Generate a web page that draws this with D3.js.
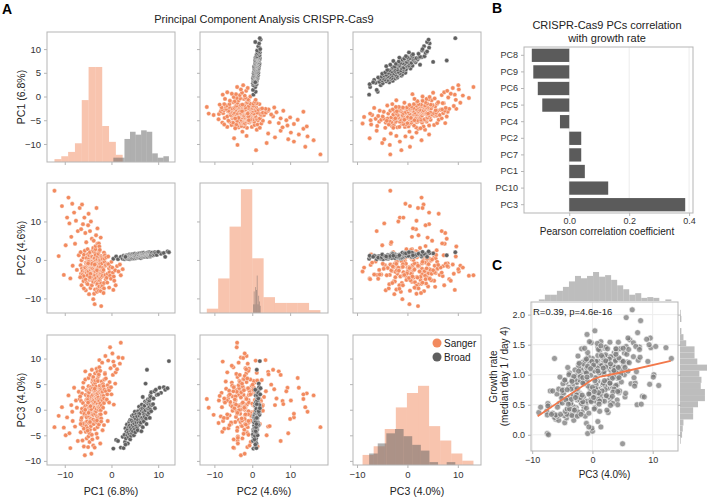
<!DOCTYPE html>
<html>
<head>
<meta charset="utf-8">
<script src="https://cdn.jsdelivr.net/npm/d3@7"></script>
<style>
body { margin: 0; background: #fff; }
svg { font-family: "Liberation Sans", Arial, sans-serif; }
</style>
</head>
<body>
<div id="chart"></div>
<script>

// ---- data ----
var pcLabels = ["PC1 (6.8%)", "PC2 (4.6%)", "PC3 (4.0%)"];
var pcDomains = [[-13.8, 13.6], [-13.8, 20.0], [-10.8, 14.6]];
var pcYTicks = [[-10, -5, 0, 5, 10], [-10, 0, 10], [-10, -5, 0, 5, 10]];
var pcXTicks = [-10, 0, 10];

var groups = ["Sanger", "Broad"];

// each sample: [PC1, PC2, PC3]
var sangerSamples = [
  [-12.2,18.0,-3.4],[-11.3,1.0,-1.2],
  [-10.6,14.0,0.5],[-10.2,-3.9,-3.5],[-9.8,3.8,-5.0],
  [-9.5,11.0,-1.5],[-9.2,16.2,2.8],[-9.0,9.5,-4.6],[-8.8,-4.8,-7.5],[-8.6,6.0,0.9],[-8.4,14.6,-0.4],[-8.3,-1.5,-2.2],
  [-8.0,12.3,4.3],[-7.8,4.2,-3.3],[-7.6,10.2,1.8],[-7.4,-2.6,0.4],[-7.2,7.5,-6.1],[-7.0,1.2,3.5],[-6.8,13.5,2.1],
  [-6.6,-1.4,-4.4],[-6.5,8.0,1.7],[-6.5,-3.6,-2.0],[-6.4,-0.1,-0.5],[-6.3,-2.2,0.2],[-6.3,14.4,3.2],[-6.2,-2.9,-3.1],
  [-6.2,-3.9,-6.0],[-6.1,-4.6,1.3],[-6.1,9.3,4.3],[-6.0,-5.5,-2.7],[-6.0,0.6,5.3],[-5.9,-4.2,-0.3],[-5.9,1.4,-7.2],
  [-5.8,-1.9,-1.1],[-5.8,11.0,-0.8],[-5.7,2.4,0.6],[-5.7,-3.0,-8.9],[-5.6,-2.4,5.9],[-5.6,7.0,7.5],[-5.5,-5.1,0.8],
  [-5.5,-0.7,2.9],[-5.5,-7.9,-4.3],[-5.4,-3.1,-2.4],[-5.4,4.6,-3.2],[-5.4,-1.0,1.9],[-5.3,-6.0,-1.1],[-5.3,-3.3,3.8],
  [-5.3,0.5,-1.5],[-5.3,-2.6,-5.6],[-6.7,-4.5,2.6],[-6.6,2.0,-2.8],[-6.4,-6.6,-1.6],[-5.9,-7.4,-3.7],[-5.6,-2.0,0.0],
  [-5.2,-0.6,-2.3],[-5.2,-1.7,2.1],[-5.1,-6.3,-3.6],[-5.1,2.8,0.9],[-5.0,1.5,2.0],[-5.0,-2.6,3.0],[-5.0,9.0,3.6],
  [-5.0,-1.3,-7.3],[-4.9,-3.8,-5.2],[-4.9,-0.2,4.6],[-4.9,12.0,6.2],[-4.9,-3.0,2.7],[-4.8,0.3,3.4],[-4.8,-4.3,-1.4],
  [-4.8,-8.9,-2.6],[-4.8,-1.8,0.4],[-4.7,-0.4,-6.3],[-4.7,1.1,-0.7],[-4.7,-1.3,-4.6],[-4.7,-2.2,1.2],[-4.6,-2.1,-3.9],
  [-4.6,2.0,0.5],[-4.6,7.5,6.8],[-4.6,-5.2,-0.2],[-4.5,-2.0,-1.8],[-4.5,-7.3,1.6],[-4.5,-0.9,3.9],[-4.4,-2.4,4.4],
  [-4.4,-0.8,4.0],[-4.4,-2.7,-3.2],[-4.4,10.0,-1.8],[-4.3,0.9,0.1],[-4.3,-1.6,2.3],[-4.3,-5.2,2.6],[-4.3,-2.0,-8.6],
  [-4.2,-6.6,-0.9],[-4.2,-3.4,0.9],[-4.2,-0.4,-2.1],[-4.2,5.5,7.8],[-4.1,-3.2,-0.8],[-4.1,-4.9,-5.8],[-4.1,0.8,1.6],
  [-4.1,-1.5,5.4],[-4.0,-1.1,-2.6],[-4.0,-5.4,5.3],[-4.0,-1.4,1.0],[-4.0,-3.5,4.2],[-4.0,2.5,5.8],[-3.9,-0.7,-7.0],
  [-3.9,-2.8,-1.9],[-3.9,-5.7,0.9],[-3.9,3.1,2.5],[-3.9,-10.2,-1.0],[-3.9,-3.9,6.4],[-3.8,-2.7,1.2],[-3.8,-1.9,-2.8],
  [-3.8,2.1,2.0],[-3.8,-0.6,3.8],[-3.8,5.0,4.9],[-5.1,-4.0,-4.1],[-4.9,-0.5,-0.6],[-4.5,-3.6,0.7],[-4.2,-1.0,-4.9],
  [-4.0,-2.3,2.9],[-5.0,-0.9,1.4],[-4.6,-4.5,-2.4],
  [-3.7,-4.5,3.9],[-3.7,-2.5,1.4],[-3.7,-8.8,1.8],[-3.7,0.4,5.6],[-3.6,0.6,-0.4],[-3.6,0.4,-3.8],[-3.6,-11.5,0.4],
  [-3.6,-5.0,-7.4],[-3.6,-3.0,3.3],[-3.5,1.8,5.2],[-3.5,-7.7,-2.2],[-3.5,-3.7,2.9],[-3.5,-4.0,-0.8],[-3.5,-1.6,7.1],
  [-3.4,-5.8,1.5],[-3.4,2.8,-0.2],[-3.4,3.6,3.6],[-3.4,1.3,5.7],[-3.4,-3.0,2.4],[-3.3,-0.2,3.1],[-3.3,-4.8,4.5],
  [-3.3,-1.0,-0.3],[-3.3,6.4,2.2],[-3.2,-1.5,2.1],[-3.2,-2.3,-4.7],[-3.2,-2.4,0.2],[-3.2,13.5,3.0],[-3.2,-0.9,8.0],
  [-3.1,-8.3,-1.3],[-3.1,-5.6,-2.5],[-3.1,-6.4,2.2],[-3.0,-6.2,2.8],[-3.0,0.2,0.9],[-3.0,-1.2,-3.4],[-3.0,-3.8,-5.5],
  [-3.0,-2.2,6.0],[-3.0,8.2,1.1],[-3.0,4.2,7.4],[-2.9,-3.4,5.6],[-2.9,0.9,3.2],[-2.9,-7.5,-1.6],[-2.9,-2.0,0.6],
  [-2.8,-5.3,0.6],[-2.8,1.6,2.4],[-2.8,-2.0,6.6],[-2.8,-4.4,1.9],[-2.7,-1.7,-2.9],[-2.7,-3.1,0.0],[-2.7,-8.0,0.5],
  [-2.7,4.3,6.9],[-2.6,2.3,1.7],[-2.6,-6.9,4.1],[-2.6,-0.3,-1.2],[-2.6,-0.7,3.5],[-2.6,-5.0,8.3],[-2.6,3.5,9.7],
  [-2.5,0.4,4.3],[-2.5,2.6,0.7],[-2.5,-5.3,4.7],[-2.5,-1.1,-0.9],[-2.4,-4.7,0.3],[-2.4,-1.0,7.6],[-2.4,0.0,1.2],
  [-2.4,-3.8,-6.6],[-3.6,-1.2,4.1],[-3.1,-2.7,-2.1],
  [-2.3,-8.1,3.3],[-2.3,-3.5,-0.1],[-2.3,-1.8,-0.9],[-2.3,5.8,4.0],[-2.2,-2.8,-1.7],[-2.2,-6.1,3.7],[-2.2,1.0,-2.3],
  [-2.2,-12.0,2.1],[-2.1,-4.4,2.6],[-2.1,-7.0,5.5],[-2.1,0.6,0.8],[-2.0,-0.9,2.9],[-2.0,0.1,4.9],[-2.0,-2.9,3.4],
  [-2.0,-3.6,9.2],[-1.9,-4.1,3.5],[-1.9,-6.7,1.8],[-1.9,0.3,-4.0],[-1.8,-3.0,5.0],[-1.8,-2.1,0.4],[-1.7,-2.6,4.6],
  [-1.7,-8.6,2.7],[-1.6,-7.4,2.2],[-1.6,1.9,1.3],[-1.6,-6.0,-3.0],[-1.5,-0.5,5.9],[-1.5,0.3,3.9],[-1.4,1.2,7.2],
  [-1.4,-4.2,7.0],[-1.3,-3.9,-0.6],[-1.3,-1.5,10.5],[-1.2,-1.3,6.1],[-1.2,-5.0,3.6],[-1.1,0.7,1.9],[-1.0,-4.6,2.0],
  [-0.9,-5.9,3.0],[-0.8,-3.6,4.8],[-0.8,-1.0,-2.2],[-0.7,0.9,9.6],[-0.6,-1.1,4.2],[-0.5,-2.2,3.8],[-0.5,-7.2,1.4],
  [-0.4,-3.2,5.4],[-0.3,-4.1,12.2],[-0.2,-1.8,8.1],[-0.1,-4.9,4.4],[0.0,-0.5,3.0],[0.2,-2.0,11.0],[0.3,-3.3,6.8],
  [0.4,-7.8,9.4],[0.5,-4.3,1.0],
  [0.6,-5.4,8.6],[0.8,-2.7,5.1],[0.9,-6.6,7.3],[1.2,-1.6,7.9],[1.5,-3.0,10.2],[1.8,-1.2,9.0],[2.0,-4.0,13.1],[2.4,-2.4,10.1]
];

// growth rate (median day 1 / day 4), same order as sangerSamples
var sangerGrowth = [
  0.42,1.04, 1.13,0.34,0.71, 1.12,1.09,0.20,0.02,0.89,1.14,0.95, 1.12,0.92,1.16,0.63,0.26,1.15,1.30,
  0.87,0.83,1.11,0.67,1.07,1.05,0.94,0.32,1.14,1.03,0.45,1.00,1.12,0.48,0.51,1.06,0.93,0.37,1.06,1.70,
  0.72,0.98,0.28,0.99,0.47,1.22,1.20,1.31,0.62,0.24,0.80,0.88,0.53,0.62,1.27,
  1.17,0.67,0.53,1.46,1.07,0.54,1.36,0.00,0.65,1.25,1.58,0.78,1.15,0.46,0.87,1.73,0.29,1.30,0.91,0.39,
  0.56,0.95,1.53,0.60,1.07,0.56,1.07,0.70,1.43,0.66,1.43,0.66,1.16,0.37,0.46,0.56,1.23,0.69,1.46,1.37,
  0.31,1.03,0.63,0.99,1.36,0.76,0.94,1.21,0.73,0.54,1.32,0.86,0.19,0.85,1.16,0.35,1.44,0.74,1.07,0.61,
  1.22,0.54,0.75,0.86,1.55,0.71,
  1.25,0.61,1.04,1.47,0.69,1.03,0.45,0.52,0.79,1.16,0.33,1.54,0.02,0.86,1.15,1.53,0.96,1.34,0.41,1.13,
  0.73,0.99,1.33,0.82,0.32,1.15,0.61,1.90,0.89,0.58,1.46,0.90,0.22,0.90,0.52,1.42,0.68,0.50,1.95,0.82,
  1.21,0.83,1.22,0.65,2.08,1.01,0.42,0.06,1.08,0.95,1.29,0.58,1.04,1.07,0.64,1.45,1.54,0.70,1.01,1.67,
  0.57,1.24,1.40,0.36,0.83,0.91,
  0.94,0.11,1.11,1.39,0.38,1.12,1.13,0.75,1.21,0.69,1.52,0.85,1.23,0.52,1.22,1.30,0.86,0.35,-0.15,1.06,
  1.43,0.63,1.13,0.67,0.77,1.61,0.82,1.47,0.81,0.13,1.47,1.20,0.76,1.05,0.56,
  1.30,0.88,0.67,1.61,0.50,1.23,0.13,1.12,1.45,0.51,1.28,0.49,0.82,1.30,1.50,0.59,
  0.63,1.44,1.05,1.29,1.00,1.59,1.27,0.96
];

var broadSamples = [
  [0.4,0.3,-7.6],[1.0,0.9,-5.9],[1.4,0.2,-6.1],
  [2.0,0.8,-7.4],[2.4,0.3,-5.3],[2.6,1.1,-7.5],
  [2.8,0.2,-4.9],[2.9,0.9,-6.3],[3.0,0.5,-3.6],[3.1,1.0,-5.6],[3.2,0.4,-4.2],[3.3,1.2,-2.9],[3.4,0.7,-5.0],
  [3.5,0.3,-3.9],[3.5,1.1,-6.6],[3.6,0.6,-4.5],[3.7,1.3,-3.3],[3.7,0.5,-5.4],[3.8,0.9,-2.4],[3.9,0.2,-4.8],
  [3.9,1.4,-3.1],[4.0,0.6,-5.8],[4.0,1.0,-2.0],[4.1,0.4,-4.1],[4.1,1.3,-3.5],[4.2,0.7,-5.1],[3.0,0.8,-6.8],
  [4.3,1.3,-3.9],[4.3,0.6,-2.1],[4.4,1.0,-4.6],[4.4,0.4,-1.2],[4.5,1.5,-3.0],[4.6,0.8,-2.4],[4.6,0.5,-4.2],
  [4.7,1.2,-1.0],[4.8,0.7,-3.4],[4.8,1.4,-5.0],[4.9,0.9,-2.7],[4.9,0.4,-1.5],[5.0,1.1,-3.8],[5.0,1.6,-0.4],
  [5.1,0.6,-2.2],[5.1,1.0,-4.4],[5.2,1.3,-1.8],[5.3,0.5,-3.1],[5.3,0.9,-0.9],[5.4,1.5,-2.5],[5.5,0.7,-3.6],
  [5.5,1.2,-1.3],[5.6,0.8,-4.0],[5.7,1.6,-0.3],[5.7,0.6,-2.0],
  [5.8,1.4,-2.6],[5.8,0.7,-0.8],[5.9,1.1,0.6],[6.0,0.6,-1.2],[6.0,1.7,-3.0],[6.1,1.0,-0.7],[6.2,1.5,-2.9],
  [6.2,0.8,-1.9],[6.3,1.2,0.1],[6.3,0.5,-2.5],[6.4,1.3,-1.6],[6.4,0.9,-4.2],[6.5,1.8,1.0],[6.5,1.1,-0.2],
  [6.6,0.7,-1.6],[6.6,1.4,0.3],[6.7,1.0,-3.4],[6.7,1.6,2.5],[6.8,0.8,-2.0],[6.8,1.3,-0.5],[6.9,1.9,-0.6],
  [6.9,0.9,-2.3],[7.0,1.2,0.4],[7.0,1.5,-1.0],[7.1,0.8,0.8],[7.1,1.4,-1.4],
  [7.2,1.3,1.6],[7.3,1.0,-0.1],[7.3,1.7,5.1],[7.4,0.9,-1.7],[7.5,1.5,1.4],[7.5,1.1,-2.8],[7.6,1.8,-0.9],
  [7.6,1.2,7.8],[7.7,0.8,1.2],[7.7,1.6,0.2],[7.8,1.3,2.0],[7.8,1.9,-1.0],[7.9,1.1,0.2],[7.9,1.5,1.1],
  [8.0,1.0,1.5],[8.0,1.7,-0.6],[8.1,1.3,1.8],[8.1,2.0,0.5],[8.2,1.2,-1.6],[8.2,1.6,2.3],[8.3,0.9,2.8],
  [8.3,1.8,0.0],[8.4,1.4,2.5],[8.4,1.1,1.0],[8.5,1.7,-0.3],[8.5,1.3,3.4],
  [8.7,1.9,0.9],[8.9,1.2,1.1],[9.0,1.6,2.2],[9.2,1.4,3.6],[9.3,2.0,0.3],[9.5,1.7,3.9],[9.7,1.3,2.9],
  [10.3,1.9,4.3],[10.6,1.6,3.3],[10.0,2.1,3.0],
  [11.2,1.8,4.4],[11.5,0.8,3.9],[12.0,2.2,4.2],[12.3,2.0,9.5]
];

var broadGrowth = [
  0.39,0.68,0.33,0.48,0.34,0.33,
  0.85,1.27,0.52,0.76,0.34,0.92,0.53,1.00,0.73,0.39,0.82,0.96,0.38,0.69,0.24,0.46,1.00,1.12,0.59,0.61,0.34,
  0.79,0.58,0.91,0.31,0.76,1.31,0.43,1.03,0.32,0.74,0.70,1.18,0.43,0.77,1.19,0.58,0.52,0.97,0.91,0.31,
  0.76,1.44,0.51,0.57,0.97,
  0.66,1.14,0.74,1.24,0.41,0.81,1.08,0.34,1.14,0.77,0.55,0.75,1.42,0.55,0.95,0.43,0.89,0.90,0.62,1.55,
  0.68,1.06,0.90,0.44,1.11,0.85,
  0.73,1.22,1.22,0.66,1.48,0.62,0.96,1.42,0.56,1.16,0.90,1.26,0.62,1.03,1.32,0.36,1.11,0.77,0.86,0.65,
  1.26,0.79,1.43,0.70,1.10,0.71,
  1.06,0.51,1.23,1.07,0.72,1.34,0.86,
  1.12,0.64,1.18,
  0.95,1.43,0.72,0.84
];

var corrLabels = ["PC8", "PC9", "PC6", "PC5", "PC4", "PC2", "PC7", "PC1", "PC10", "PC3"];
var corrValues = [-0.125, -0.12, -0.105, -0.09, -0.031, 0.04, 0.04, 0.052, 0.13, 0.387];
var corrTicks = [0.0, 0.2, 0.4];

var lowessX = [-9.1, -3.9, 0.0, 1.4, 3.9, 13.0];
var lowessY = [0.31, 0.66, 0.92, 0.97, 1.02, 1.23];
var growthTicks = [0.0, 0.5, 1.0, 1.5, 2.0];
var statText = "R=0.39, p=4.6e-16";

// ---- style ----
var sangerColor = "#f28a5e",
    broadColor = "#5f5f5f",
    frameColor = "#b5b5b5",
    tickText = "#333";

var svg = d3.select("#chart")
    .append("svg")
    .attr("width", 708)
    .attr("height", 497);

var fmtInt = d3.format("d"),
    fmt1 = d3.format(".1f");

function styleAxis(g, size) {
    g.select(".domain").remove();
    g.selectAll(".tick line").attr("stroke", frameColor);
    g.selectAll(".tick text").attr("fill", tickText).attr("font-size", size || 9.5)
        .attr("font-family", "Liberation Sans, Arial, sans-serif");
}

// equal width bins over the data range, numpy style
function binsFor(values, k) {
    var ext = d3.extent(values), w = (ext[1] - ext[0]) / k;
    var th = d3.range(1, k).map(function (i) { return ext[0] + i * w; });
    return d3.bin().domain(ext).thresholds(th)(values);
}
var diagBinCount = 10;

// ================= panel A: pair plot =================
var colX = [47, 200, 353], rowY = [32, 183, 335], cellW = 128, cellH = 130;

var xs = pcDomains.map(function (d, j) {
    return d3.scaleLinear().domain(d).range([colX[j], colX[j] + cellW]);
});
var ys = pcDomains.map(function (d, i) {
    return d3.scaleLinear().domain(d).range([rowY[i] + cellH, rowY[i]]);
});

var samplesByGroup = [sangerSamples, broadSamples],
    colorByGroup = [sangerColor, broadColor];

// diagonal hists share the count axis
var diagBins = [0, 1, 2].map(function (v) {
    return samplesByGroup.map(function (s) {
        return binsFor(s.map(function (d) { return d[v]; }), diagBinCount);
    });
});
var maxCount = d3.max(diagBins, function (b) {
    return d3.max(b, function (bg) { return d3.max(bg, function (x) { return x.length; }); });
});

svg.append("text").attr("x", 2).attr("y", 14).attr("font-size", 14).attr("font-weight", "bold").text("A");
svg.append("text").attr("x", 264).attr("y", 23).attr("text-anchor", "middle")
    .attr("font-size", 11).attr("fill", "#222").text("Principal Component Analysis CRISPR-Cas9");

for (var i = 0; i < 3; i++) {
    for (var j = 0; j < 3; j++) {
        var g = svg.append("g");
        var clipId = "clip" + i + j;
        g.append("clipPath").attr("id", clipId).append("rect")
            .attr("x", colX[j]).attr("y", rowY[i]).attr("width", cellW).attr("height", cellH);
        var body = g.append("g").attr("clip-path", "url(#" + clipId + ")");

        if (i === j) {
            var yDiag = d3.scaleLinear().domain([0, maxCount * 1.05]).range([rowY[i] + cellH, rowY[i]]);
            diagBins[i].forEach(function (bins, k) {
                body.append("g").selectAll("rect")
                    .data(bins)
                    .enter().append("rect")
                    .attr("x", function (b) { return xs[j](b.x0); })
                    .attr("width", function (b) { return Math.max(0, xs[j](b.x1) - xs[j](b.x0)); })
                    .attr("y", function (b) { return yDiag(b.length); })
                    .attr("height", function (b) { return yDiag(0) - yDiag(b.length); })
                    .attr("fill", colorByGroup[k])
                    .attr("fill-opacity", 0.5);
            });
        } else {
            (function (xi, yi) {
                samplesByGroup.forEach(function (s, k) {
                    body.append("g").selectAll("circle")
                        .data(s)
                        .enter().append("circle")
                        .attr("cx", function (d) { return xs[xi](d[xi]); })
                        .attr("cy", function (d) { return ys[yi](d[yi]); })
                        .attr("r", 2.2)
                        .attr("fill", colorByGroup[k])
                        .attr("stroke", "#fff")
                        .attr("stroke-width", 0.4);
                });
            })(j, i);
        }

        var ax = g.append("g")
            .attr("transform", "translate(0," + (rowY[i] + cellH) + ")")
            .call(d3.axisBottom(xs[j]).tickValues(pcXTicks).tickSize(3).tickPadding(3)
                .tickFormat(i === 2 ? fmtInt : ""));
        styleAxis(ax);
        var ay = g.append("g")
            .attr("transform", "translate(" + colX[j] + ",0)")
            .call(d3.axisLeft(ys[i]).tickValues(pcYTicks[i]).tickSize(3).tickPadding(3)
                .tickFormat(j === 0 ? fmtInt : ""));
        styleAxis(ay);

        g.append("rect")
            .attr("x", colX[j]).attr("y", rowY[i]).attr("width", cellW).attr("height", cellH)
            .attr("fill", "none").attr("stroke", frameColor);
    }
    svg.append("text")
        .attr("transform", "translate(25," + (rowY[i] + cellH / 2) + ") rotate(-90)")
        .attr("text-anchor", "middle").attr("font-size", 10.5).attr("fill", "#222")
        .text(pcLabels[i]);
    svg.append("text")
        .attr("x", colX[i] + cellW / 2).attr("y", 495)
        .attr("text-anchor", "middle").attr("font-size", 10.5).attr("fill", "#222")
        .text(pcLabels[i]);
}

// legend in the last diagonal panel
var legend = svg.append("g");
groups.forEach(function (name, k) {
    legend.append("circle").attr("cx", 437).attr("cy", 343 + k * 14).attr("r", 4.5)
        .attr("fill", colorByGroup[k]);
    legend.append("text").attr("x", 444).attr("y", 346.5 + k * 14)
        .attr("font-size", 10).attr("fill", "#222").text(name);
});

// ================= panel B: correlation bars =================
svg.append("text").attr("x", 492).attr("y", 13).attr("font-size", 14).attr("font-weight", "bold").text("B");
svg.append("text").attr("x", 607).attr("y", 29).attr("text-anchor", "middle")
    .attr("font-size", 11).attr("fill", "#222").text("CRISPR-Cas9 PCs correlation");
svg.append("text").attr("x", 607).attr("y", 42).attr("text-anchor", "middle")
    .attr("font-size", 11).attr("fill", "#222").text("with growth rate");

var bLeft = 524, bRight = 693, bTop = 47, bBottom = 213;
var bx = d3.scaleLinear().domain([-0.151, 0.413]).range([bLeft, bRight]);
var by = d3.scaleBand().domain(corrLabels).range([bTop, bBottom]).paddingInner(0.2).paddingOuter(0.1);

var gB = svg.append("g");
gB.selectAll("line.grid")
    .data(corrTicks)
    .enter().append("line")
    .attr("class", "grid")
    .attr("x1", function (d) { return bx(d); }).attr("x2", function (d) { return bx(d); })
    .attr("y1", bTop).attr("y2", bBottom)
    .attr("stroke", "#ececec");
gB.selectAll("rect.bar")
    .data(corrValues)
    .enter().append("rect")
    .attr("class", "bar")
    .attr("x", function (d) { return bx(Math.min(0, d)); })
    .attr("width", function (d) { return Math.abs(bx(d) - bx(0)); })
    .attr("y", function (d, k) { return by(corrLabels[k]); })
    .attr("height", by.bandwidth())
    .attr("fill", "#5b5b5b");
var bAx = gB.append("g").attr("transform", "translate(0," + bBottom + ")")
    .call(d3.axisBottom(bx).tickValues(corrTicks).tickSize(3).tickPadding(2).tickFormat(fmt1));
styleAxis(bAx, 9);
var bAy = gB.append("g").attr("transform", "translate(" + bLeft + ",0)")
    .call(d3.axisLeft(by).tickSize(3).tickPadding(3));
styleAxis(bAy, 9);
gB.append("rect").attr("x", bLeft).attr("y", bTop).attr("width", bRight - bLeft).attr("height", bBottom - bTop)
    .attr("fill", "none").attr("stroke", frameColor);
svg.append("text").attr("x", 607).attr("y", 235).attr("text-anchor", "middle")
    .attr("font-size", 10).attr("fill", "#222").text("Pearson correlation coefficient");

// ================= panel C: growth vs PC3 =================
svg.append("text").attr("x", 492).attr("y", 270).attr("font-size", 14).attr("font-weight", "bold").text("C");

var cLeft = 531, cRight = 678, cTop = 302, cBottom = 451;
var allPC3 = sangerSamples.concat(broadSamples).map(function (d) { return d[2]; });
var allGrowth = sangerGrowth.concat(broadGrowth);
var cx = d3.scaleLinear().domain([-10.2, 14.2]).range([cLeft, cRight]);
var cy = d3.scaleLinear().domain([-0.27, 2.21]).range([cBottom, cTop]);

var gC = svg.append("g");
// marginal hists
var topBins = binsFor(allPC3, 22);
var topY = d3.scaleLinear().domain([0, d3.max(topBins, function (b) { return b.length; })]).range([cTop - 1, cTop - 30]);
gC.append("g").selectAll("rect")
    .data(topBins)
    .enter().append("rect")
    .attr("x", function (b) { return cx(b.x0); })
    .attr("width", function (b) { return cx(b.x1) - cx(b.x0); })
    .attr("y", function (b) { return topY(b.length); })
    .attr("height", function (b) { return topY(0) - topY(b.length); })
    .attr("fill", "#bdbdbd");
var sideBins = binsFor(allGrowth, 22);
var sideX = d3.scaleLinear().domain([0, d3.max(sideBins, function (b) { return b.length; })]).range([cRight + 2, 707]);
gC.append("g").selectAll("rect")
    .data(sideBins)
    .enter().append("rect")
    .attr("x", sideX(0))
    .attr("width", function (b) { return sideX(b.length) - sideX(0); })
    .attr("y", function (b) { return cy(b.x1); })
    .attr("height", function (b) { return cy(b.x0) - cy(b.x1); })
    .attr("fill", "#bdbdbd");

// grid
gC.append("g").selectAll("line")
    .data(pcXTicks)
    .enter().append("line")
    .attr("x1", function (d) { return cx(d); }).attr("x2", function (d) { return cx(d); })
    .attr("y1", cTop).attr("y2", cBottom).attr("stroke", "#ededed");
gC.append("g").selectAll("line")
    .data(growthTicks)
    .enter().append("line")
    .attr("x1", cLeft).attr("x2", cRight)
    .attr("y1", function (d) { return cy(d); }).attr("y2", function (d) { return cy(d); })
    .attr("stroke", "#ededed");

gC.append("clipPath").attr("id", "clipC").append("rect")
    .attr("x", cLeft).attr("y", cTop).attr("width", cRight - cLeft).attr("height", cBottom - cTop);
var cBody = gC.append("g").attr("clip-path", "url(#clipC)");
cBody.append("g").selectAll("circle")
    .data(allGrowth)
    .enter().append("circle")
    .attr("cx", function (d, k) { return cx(allPC3[k]); })
    .attr("cy", function (d) { return cy(d); })
    .attr("r", 3)
    .attr("fill", "#7a7a7a")
    .attr("fill-opacity", 0.75)
    .attr("stroke", "#fff")
    .attr("stroke-width", 0.6);

var line = d3.line()
    .x(function (d, k) { return cx(lowessX[k]); })
    .y(function (d) { return cy(d); });
cBody.append("path")
    .datum(lowessY)
    .attr("d", line)
    .attr("fill", "none")
    .attr("stroke", "#f2784b")
    .attr("stroke-width", 1.8);

var cAx = gC.append("g").attr("transform", "translate(0," + cBottom + ")")
    .call(d3.axisBottom(cx).tickValues(pcXTicks).tickSize(3).tickPadding(3).tickFormat(fmtInt));
styleAxis(cAx, 9);
var cAy = gC.append("g").attr("transform", "translate(" + cLeft + ",0)")
    .call(d3.axisLeft(cy).tickValues(growthTicks).tickSize(3).tickPadding(3).tickFormat(fmt1));
styleAxis(cAy, 9);
var cAr = gC.append("g").attr("transform", "translate(" + cRight + ",0)")
    .call(d3.axisRight(cy).tickValues(growthTicks).tickSize(3).tickFormat(""));
styleAxis(cAr, 9);
gC.append("rect").attr("x", cLeft).attr("y", cTop).attr("width", cRight - cLeft).attr("height", cBottom - cTop)
    .attr("fill", "none").attr("stroke", frameColor);

gC.append("text").attr("x", cLeft + 2).attr("y", cTop + 13)
    .attr("font-size", 9.5).attr("fill", "#222").text(statText);
svg.append("text").attr("x", (cLeft + cRight) / 2).attr("y", 478).attr("text-anchor", "middle")
    .attr("font-size", 10).attr("fill", "#222").text("PC3 (4.0%)");
svg.append("text").attr("transform", "translate(497," + ((cTop + cBottom) / 2) + ") rotate(-90)")
    .attr("text-anchor", "middle").attr("font-size", 10).attr("fill", "#222").text("Growth rate");
svg.append("text").attr("transform", "translate(508," + ((cTop + cBottom) / 2) + ") rotate(-90)")
    .attr("text-anchor", "middle").attr("font-size", 10).attr("fill", "#222").text("(median day 1 / day 4)");

</script>
</body>
</html>
